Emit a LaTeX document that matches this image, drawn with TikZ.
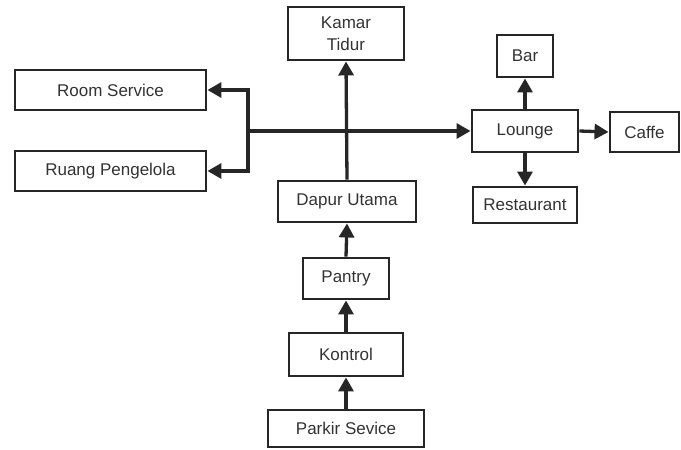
\documentclass[tikz,border=0pt]{standalone}
\usepackage{fontspec}
\setmainfont{Liberation Sans}
\usetikzlibrary{arrows.meta}
\begin{document}
\begin{tikzpicture}[x=1pt,y=-1pt,
  box/.style={draw=black!85,line width=2.9pt,inner sep=0pt,font=\fontsize{17}{22}\selectfont,text=black!80,align=center},
  conn/.style={draw=black!85,line width=3.3pt,-{Triangle[length=14pt,width=15pt]}}]
\useasboundingbox (0,0) rectangle (681,450);
\fill[white] (0,0) rectangle (681,450);
\newcommand{\bx}[6]{\node[box,minimum width=#4-#2,minimum height=#5-#3] (#1) at ({(#2+#4)/2},{(#3+#5)/2}) {#6};}
\bx{rs}{15}{70}{206}{110}{Room Service}
\bx{rp}{15}{151}{206}{191}{Ruang Pengelola}
\bx{kt}{288}{7}{404}{60}{Kamar\\Tidur}
\bx{du}{278}{181}{416}{222}{Dapur Utama}
\bx{pa}{303}{258}{389}{299}{Pantry}
\bx{ko}{289}{333}{403}{376}{Kontrol}
\bx{ps}{268}{410}{424}{447}{Parkir Sevice}
\bx{lo}{472}{110}{578}{152}{Lounge}
\bx{ba}{497}{35}{553}{77}{Bar}
\bx{ca}{610}{112}{679}{152}{Caffe}
\bx{re}{473}{187}{577}{223}{Restaurant}
\coordinate (j) at (248,131);
\draw[conn] (j) |- (rs.east);
\draw[conn] (j) |- (rp.east);
\draw[conn] (j) -- (lo.west);
\draw[conn] (du.north) -- (kt.south);
\draw[conn] (pa.north) -- (du.south);
\draw[conn] (ko.north) -- (pa.south);
\draw[conn] (ps.north) -- (ko.south);
\draw[conn] (lo.north) -- (ba.south);
\draw[conn] (lo.south) -- (re.north);
\draw[conn] (lo.east) -- (ca.west);
\end{tikzpicture}
\end{document}
